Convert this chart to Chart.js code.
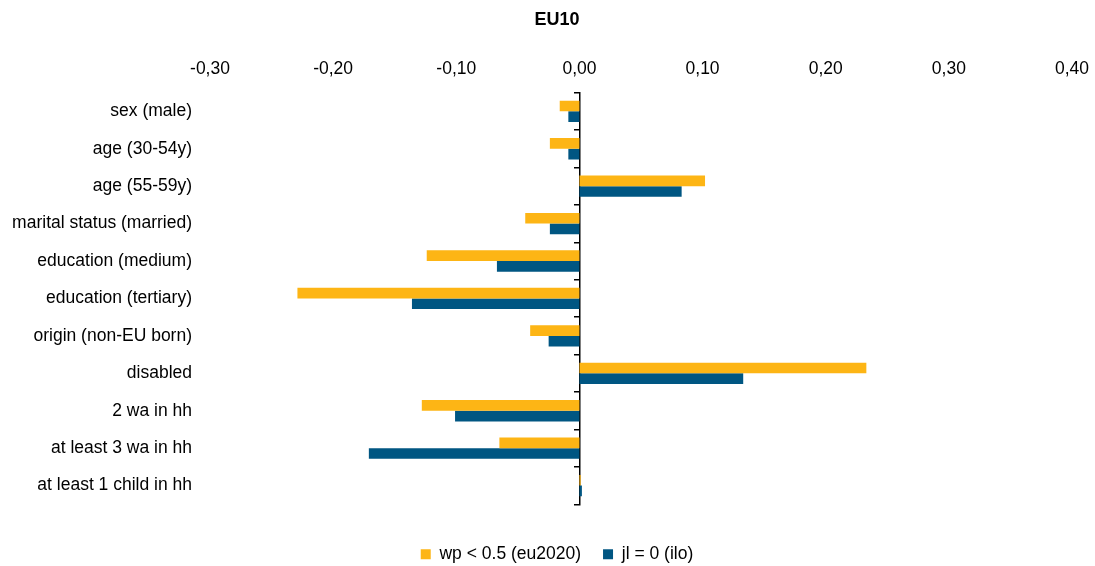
<!DOCTYPE html>
<html>
<head>
<meta charset="utf-8">
<script src="https://cdn.jsdelivr.net/npm/chart.js"></script>
<style>
  html, body { margin: 0; padding: 0; background: #fff; }
  #wrap { width: 1095px; height: 566px; }
</style>
</head>
<body>
<div id="wrap"><canvas id="eu10Chart"></canvas></div>
<script>
// podatki, odčitani s slike
const categories = [
    'sex (male)', 'age (30-54y)', 'age (55-59y)', 'marital status (married)',
    'education (medium)', 'education (tertiary)', 'origin (non-EU born)', 'disabled',
    '2 wa in hh', 'at least 3 wa in hh', 'at least 1 child in hh'
];
const wpValues = [-0.016, -0.024, 0.102, -0.044, -0.124, -0.229, -0.040, 0.233, -0.128, -0.065, 0.001];
const jlValues = [-0.009, -0.009, 0.083, -0.024, -0.067, -0.136, -0.025, 0.133, -0.101, -0.171, 0.002];
const seriesNames = ['wp < 0.5 (eu2020)', 'jl = 0 (ilo)'];
const xMin = -0.3, xMax = 0.4, xStep = 0.1;

const FONT = "'Liberation Sans', Arial, sans-serif";
Chart.defaults.font.family = FONT;
Chart.defaults.color = '#000';

const fmt = v => (Math.abs(v) < 1e-9 ? 0 : v).toFixed(2).replace('.', ',');

new Chart(document.getElementById('eu10Chart'), {
    type: 'bar',
    data: {
        labels: categories,
        datasets: [
            { label: seriesNames[0], data: wpValues, backgroundColor: '#FDB515', yAxisID: 'y' },
            { label: seriesNames[1], data: jlValues, backgroundColor: '#005682', yAxisID: 'y' }
        ]
    },
    options: {
        indexAxis: 'y',
        responsive: true,
        maintainAspectRatio: false,
        animation: false,
        categoryPercentage: 0.57,
        barPercentage: 1,
        // negativni desni rob premakne naslov in legendo proti sredini risbe
        layout: { padding: { top: 9, right: -14, bottom: -7, left: 5 } },
        plugins: {
            title: {
                display: true,
                text: 'EU10',
                font: { size: 18, weight: 'bold' },
                padding: { top: 0, bottom: 15 }
            },
            legend: {
                position: 'bottom',
                // prazen naslov legende samo za razmik nad legendo
                title: { display: true, text: '', font: { size: 1 }, padding: { top: 18, bottom: 0 } },
                labels: { boxWidth: 10, boxHeight: 10, padding: 22, font: { size: 17.5 } }
            },
            tooltip: { enabled: false }
        },
        scales: {
            x: {
                position: 'top',
                min: xMin,
                max: xMax,
                grid: { display: false, drawTicks: false },
                border: { display: false },
                ticks: { stepSize: xStep, padding: 13, font: { size: 17.5 }, callback: v => fmt(v) },
                afterFit: s => { s.paddingLeft = 0; s.paddingRight = 23; }
            },
            y: {
                position: 'left',
                grid: { display: false, drawTicks: false },
                border: { display: false },
                ticks: { padding: 18, font: { size: 17.5 } },
                afterFit: s => { s.width = 205; }
            },
            // navpična os pri 0 s kratkimi oznakami med kategorijami
            yZero: {
                type: 'category',
                labels: categories,
                position: { x: 0 },
                offset: true,
                grid: { offset: true, drawOnChartArea: false, drawTicks: true, tickLength: 5, color: '#000', lineWidth: 1.5 },
                border: { display: true, color: '#000', width: 1.5 },
                ticks: { display: false }
            }
        }
    }
});
</script>
</body>
</html>
